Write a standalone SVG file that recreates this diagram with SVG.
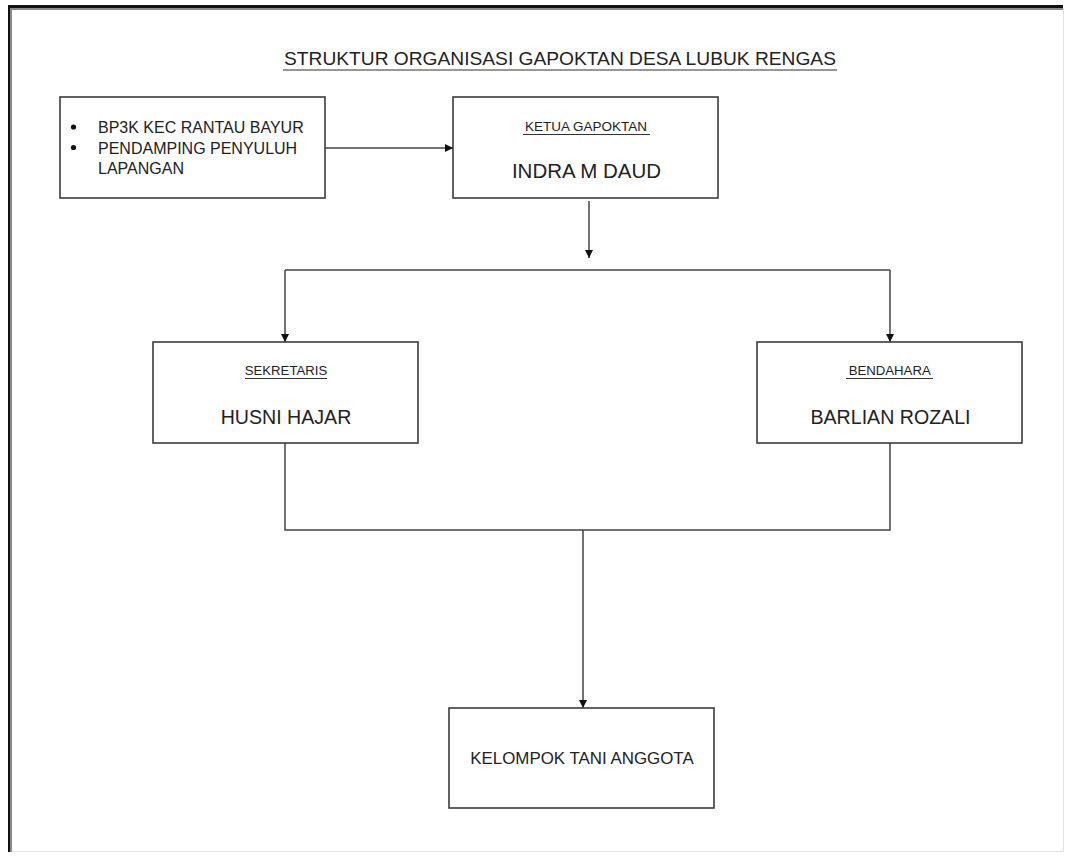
<svg xmlns="http://www.w3.org/2000/svg" width="1067" height="857" viewBox="0 0 1067 857">
<style>
.box{fill:#fff;stroke:#3c3c3c;stroke-width:1.6}
.t{font-family:"Liberation Sans",Arial,sans-serif;fill:#222;text-anchor:middle}
.s{text-anchor:start}
.ln{fill:none;stroke:#444;stroke-width:1.5}
.u{stroke:#333;stroke-width:1.2}
</style>
<defs>
<marker id="ah" viewBox="0 0 10 10" refX="10" refY="5" markerWidth="9" markerHeight="8" markerUnits="userSpaceOnUse" orient="auto">
<path d="M0,0 L10,5 L0,10 z" fill="#111"/>
</marker>
</defs>
<rect x="0" y="0" width="1067" height="857" fill="#fff"/>
<g id="frame">
<rect x="8" y="5" width="1055" height="3" fill="#111"/>
<rect x="10" y="8" width="1053" height="2" fill="#8a8a8a"/>
<rect x="8" y="5" width="2" height="847" fill="#111"/>
<rect x="10" y="8" width="2" height="844" fill="#8a8a8a"/>
<line x1="1063.5" y1="8" x2="1063.5" y2="852" stroke="#e2e2e2" stroke-width="1"/>
<line x1="12" y1="851.5" x2="1064" y2="851.5" stroke="#e6e6e6" stroke-width="1"/>
</g>
<g id="title">
<text class="t" x="560" y="65" font-size="19.2">STRUKTUR ORGANISASI GAPOKTAN DESA LUBUK RENGAS</text>
<line class="u" x1="283" y1="70" x2="837" y2="70"/>
</g>
<g id="connectors">
<line class="ln" x1="325" y1="148" x2="453" y2="148" marker-end="url(#ah)"/>
<line class="ln" x1="589" y1="201" x2="589" y2="258" marker-end="url(#ah)"/>
<path class="ln" d="M285,270 H890"/>
<line class="ln" x1="285" y1="270" x2="285" y2="342" marker-end="url(#ah)"/>
<line class="ln" x1="890" y1="270" x2="890" y2="342" marker-end="url(#ah)"/>
<path class="ln" d="M285,443 V530 H890 V443"/>
<line class="ln" x1="583" y1="530" x2="583" y2="708" marker-end="url(#ah)"/>
</g>
<g id="bp3k">
<rect class="box" x="60" y="97" width="265" height="101"/>
<circle cx="73.5" cy="127" r="2.6" fill="#111"/>
<circle cx="73.5" cy="147.5" r="2.6" fill="#111"/>
<text class="t s" x="98" y="133" font-size="16">BP3K KEC RANTAU BAYUR</text>
<text class="t s" x="98" y="153.5" font-size="16">PENDAMPING PENYULUH</text>
<text class="t s" x="98" y="174" font-size="16">LAPANGAN</text>
</g>
<g id="ketua">
<rect class="box" x="453" y="97" width="265" height="101"/>
<text class="t" x="586" y="131" font-size="13.5">KETUA GAPOKTAN</text>
<line class="u" x1="523" y1="134.5" x2="650" y2="134.5"/>
<text class="t" x="586.5" y="178" font-size="20.5">INDRA M DAUD</text>
</g>
<g id="sekretaris">
<rect class="box" x="153" y="342" width="265" height="101"/>
<text class="t" x="286" y="375" font-size="13.2">SEKRETARIS</text>
<line class="u" x1="245" y1="378.5" x2="327" y2="378.5"/>
<text class="t" x="286" y="424" font-size="19.6">HUSNI HAJAR</text>
</g>
<g id="bendahara">
<rect class="box" x="757" y="342" width="265" height="101"/>
<text class="t" x="889.7" y="375" font-size="13.2">BENDAHARA</text>
<line class="u" x1="846" y1="378.5" x2="933" y2="378.5"/>
<text class="t" x="890.5" y="424" font-size="19.6">BARLIAN ROZALI</text>
</g>
<g id="kelompok">
<rect class="box" x="449" y="708" width="265" height="100"/>
<text class="t" x="582" y="764" font-size="16.9">KELOMPOK TANI ANGGOTA</text>
</g>
</svg>
